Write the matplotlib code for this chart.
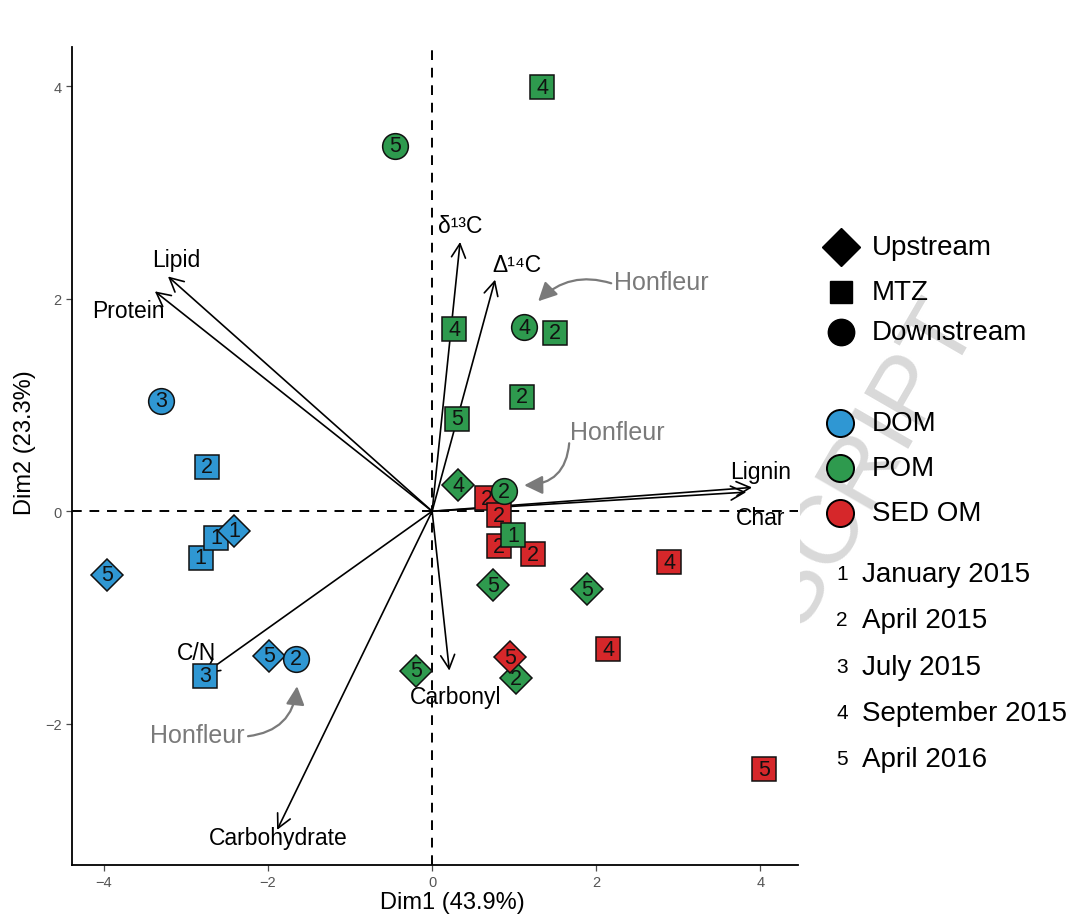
import matplotlib
matplotlib.use("Agg")
import matplotlib.pyplot as plt
from matplotlib.patches import FancyArrowPatch
from matplotlib.transforms import Bbox

plt.rcParams['font.family'] = ['Liberation Sans', 'DejaVu Sans']

# ---- PCA scores: one entry per sample ----
dim1 = [-2.82, -2.63, -2.41, -3.30, -2.75, -3.96, -2.77, -1.99, -1.66,
        0.67, 0.817, 0.817, 1.23, 2.89, 2.146, 4.05,
        1.34, -0.45, 0.268, 1.12, 1.50, 1.10, 0.30, 0.317, 0.878, 0.988,
        0.744, 1.89, -0.195, 1.02,
        0.95]
dim2 = [-0.437, -0.248, -0.185, 1.04, 0.42, -0.60, -1.55, -1.36, -1.39,
        0.122, -0.038, -0.33, -0.405, -0.48, -1.30, -2.43,
        3.99, 3.44, 1.713, 1.73, 1.68, 1.08, 0.87, 0.245, 0.188, -0.226,
        -0.696, -0.734, -1.50, -1.57,
        -1.374]
site = ['MTZ', 'MTZ', 'Upstream', 'Downstream', 'MTZ', 'Upstream', 'MTZ', 'Upstream', 'Downstream',
        'MTZ', 'MTZ', 'MTZ', 'MTZ', 'MTZ', 'MTZ', 'MTZ',
        'MTZ', 'Downstream', 'MTZ', 'Downstream', 'MTZ', 'MTZ', 'MTZ', 'Upstream', 'Downstream', 'MTZ',
        'Upstream', 'Upstream', 'Upstream', 'Upstream',
        'Upstream']
fraction = ['DOM'] * 9 + ['SED OM'] * 7 + ['POM'] * 14 + ['SED OM']
campaign = [1, 1, 1, 3, 2, 5, 3, 5, 2,
            2, 2, 2, 2, 4, 4, 5,
            4, 5, 4, 4, 2, 2, 5, 4, 2, 1,
            5, 5, 5, 2,
            5]

# ---- variable loadings (arrow tips) ----
variables = ['Lipid', 'Protein', 'δ¹³C', 'Δ¹⁴C', 'Lignin', 'Char', 'Carbonyl', 'Carbohydrate', 'C/N']
load1 = [-3.22, -3.38, 0.341, 0.768, 3.90, 3.83, 0.21, -1.89, -2.78]
load2 = [2.21, 2.07, 2.535, 2.18, 0.224, 0.18, -1.50, -3.00, -1.53]

# legend entries
site_levels = ['Upstream', 'MTZ', 'Downstream']
fraction_levels = ['DOM', 'POM', 'SED OM']
campaign_levels = ['January 2015', 'April 2015', 'July 2015', 'September 2015', 'April 2016']

# ---- styling ----
colors = {'DOM': '#2F97D3', 'POM': '#2E9A4E', 'SED OM': '#D6272A'}
markers = {'Upstream': 'D', 'MTZ': 's', 'Downstream': 'o'}
msizes = {'Upstream': 16.0, 'MTZ': 16.8, 'Downstream': 18.5}
label_pos = {'Lipid': (-3.12, 2.37), 'Protein': (-3.70, 1.89), 'δ¹³C': (0.34, 2.69),
             'Δ¹⁴C': (1.03, 2.32), 'Lignin': (4.0, 0.376), 'Char': (4.0, -0.06),
             'Carbonyl': (0.29, -1.74), 'Carbohydrate': (-1.88, -3.07), 'C/N': (-2.87, -1.33)}

W, H = 1077, 920
fig = plt.figure(figsize=(W / 100, H / 100), dpi=100)
fig.patch.set_facecolor('white')

# faint diagonal stamp in the background, visible only right of the panel
stamp = fig.text(980, H - 325, 'ACCEPTED MANUSCRIPT', transform=None, fontsize=70,
                 color='#D9D9D9', rotation=60, rotation_mode='anchor', ha='right',
                 va='baseline', zorder=-5)
stamp.set_clip_box(Bbox.from_extents(800, 0, W, H))
stamp.set_clip_on(True)

ax = fig.add_axes([72 / W, 1 - 866 / H, (798 - 72) / W, (866 - 48) / H])
ax.set_facecolor('white')
ax.set_xlim(-4.39, 4.46)
ax.set_ylim(-3.33, 4.37)
for s in ['top', 'right']:
    ax.spines[s].set_visible(False)
for s in ['left', 'bottom']:
    ax.spines[s].set_linewidth(1.3)
    ax.spines[s].set_color('black')
ax.set_xticks([-4, -2, 0, 2, 4])
ax.set_yticks([-2, 0, 2, 4])
ax.tick_params(axis='both', colors='#4D4D4D', labelsize=10.5, length=4, width=0.9)
ax.tick_params(axis='both', labelcolor='#555555')

ax.axhline(0, color='black', lw=1.4, ls=(0, (5, 4)), zorder=1)
ax.axvline(0, color='black', lw=1.4, ls=(0, (5, 4)), zorder=1)

# loading arrows
for name, lx, ly in zip(variables, load1, load2):
    ax.annotate('', xy=(lx, ly), xytext=(0, 0),
                arrowprops=dict(arrowstyle='->,head_length=0.55,head_width=0.28',
                                lw=1.2, color='black', shrinkA=0, shrinkB=0,
                                mutation_scale=18), zorder=2)
    tx, ty = label_pos[name]
    ax.text(tx, ty, name, fontsize=16.5, ha='center', va='center', color='black',
            zorder=2.5)

# sample points with campaign number
for i, (x, y, st, fr, c) in enumerate(zip(dim1, dim2, site, fraction, campaign)):
    z = 3 + 0.02 * i
    ax.plot(x, y, marker=markers[st], ms=msizes[st], mfc=colors[fr], mec='#111111',
            mew=1.1, ls='none', zorder=z)
    ax.text(x, y, str(c), fontsize=15.5, ha='center', va='center', color='#111111',
            zorder=z + 0.01)

# Honfleur call-outs (pixel positions converted to data space)
def px(xp, yp):
    return ((xp - 432) / 82.0, (512 - yp) / 106.25)

callouts = [((661, 283), (611, 284), (538, 302), 0.3),
            ((617, 433), (569, 444), (524, 486), -0.45),
            ((197, 736), (248, 737), (297, 687), 0.4)]
for (tx, ty), (sx, sy), (ex, ey), rad in callouts:
    ax.text(*px(tx, ty), 'Honfleur', fontsize=18, color='#7A7A7A', ha='center', va='center',
            zorder=6)
    arr = FancyArrowPatch(px(sx, sy), px(ex, ey), connectionstyle=f'arc3,rad={rad}',
                          arrowstyle='-|>,head_length=0.7,head_width=0.35',
                          mutation_scale=16, color='#7A7A7A', lw=1.6,
                          shrinkA=0, shrinkB=0, zorder=6)
    ax.add_patch(arr)

# axis titles
fig.text(452 / W, 1 - 903 / H, 'Dim1 (43.9%)', fontsize=17, ha='center', va='center')
fig.text(25 / W, 1 - 443 / H, 'Dim2 (23.3%)', fontsize=17, ha='center', va='center',
         rotation=90)

# ---- legends drawn on a transparent overlay in pixel space ----
lax = fig.add_axes([0, 0, 1, 1], zorder=5)
lax.set_xlim(0, W)
lax.set_ylim(H, 0)
lax.axis('off')
lax.patch.set_alpha(0)

site_y = [248, 293, 333]
site_ms = [19, 16, 19]
for lvl, yy, m in zip(site_levels, site_y, site_ms):
    lax.plot(841, yy, marker=markers[lvl], ms=m, color='black', ls='none')
    lax.text(872, yy, lvl, fontsize=20, va='center', ha='left')

frac_y = [424, 469, 514]
for lvl, yy in zip(fraction_levels, frac_y):
    lax.plot(840, yy, marker='o', ms=19.5, mfc=colors[lvl], mec='black', mew=1.4, ls='none')
    lax.text(872, yy, lvl, fontsize=20, va='center', ha='left')

camp_y = [575, 621, 668, 714, 760]
for k, (lvl, yy) in enumerate(zip(campaign_levels, camp_y)):
    lax.text(842, yy, str(k + 1), fontsize=15, va='center', ha='center')
    lax.text(862, yy, lvl, fontsize=20, va='center', ha='left')

fig.savefig('out.png', dpi=100)
